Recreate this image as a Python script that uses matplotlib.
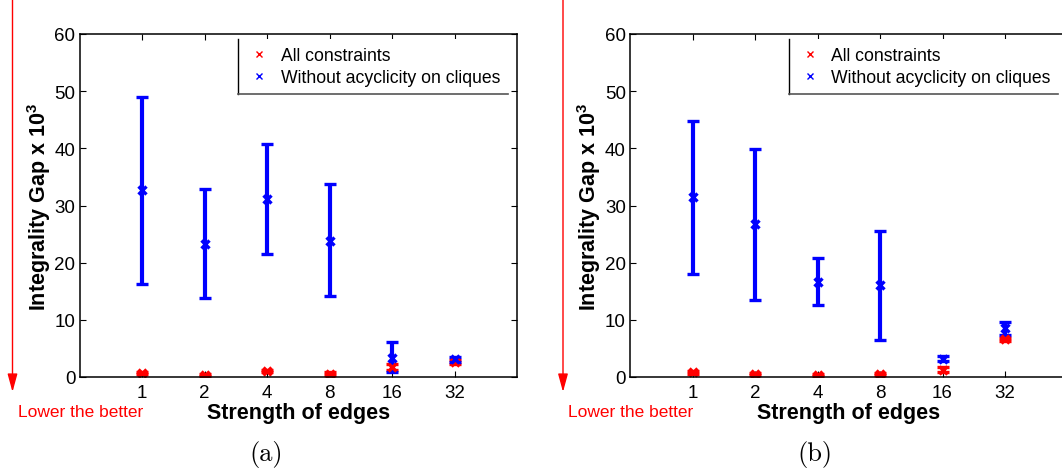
import matplotlib
matplotlib.use('Agg')
import matplotlib.pyplot as plt
from matplotlib.lines import Line2D
from matplotlib.patches import FancyArrowPatch

plt.rcParams['font.family'] = ['Liberation Sans', 'DejaVu Sans']
plt.rcParams['mathtext.fontset'] = 'custom'
plt.rcParams['mathtext.rm'] = 'Liberation Sans'
plt.rcParams['mathtext.bf'] = 'Liberation Sans:bold'

strengths = ['1', '2', '4', '8', '16', '32']

# panel (a)
a_all_mean = [0.65, 0.35, 1.1, 0.6, 1.8, 2.6]
a_all_low = [0.45, 0.2, 0.9, 0.4, 1.3, 2.3]
a_all_high = [0.85, 0.5, 1.3, 0.8, 2.3, 2.9]
a_noacyc_mean = [32.7, 23.3, 31.2, 23.8, 3.4, 3.1]
a_noacyc_low = [16.3, 13.8, 21.5, 14.1, 0.8, 2.7]
a_noacyc_high = [49.0, 32.9, 40.8, 33.7, 6.1, 3.5]

# panel (b)
b_all_mean = [0.8, 0.5, 0.3, 0.5, 1.3, 6.6]
b_all_low = [0.6, 0.3, 0.15, 0.3, 0.9, 6.3]
b_all_high = [1.0, 0.7, 0.45, 0.7, 1.7, 6.9]
b_noacyc_mean = [31.5, 26.7, 16.7, 16.1, 3.2, 8.6]
b_noacyc_low = [18.1, 13.4, 12.6, 6.5, 2.8, 7.4]
b_noacyc_high = [44.8, 39.9, 20.8, 25.6, 3.6, 9.6]

W, H = 1062, 477
fig = plt.figure(figsize=(W / 100, H / 100), dpi=100)


def panel(left_px, series, caption, cap_x):
    ax = fig.add_axes([left_px / W, 1 - 378 / H, 437.5 / W, 343 / H])
    x = list(range(1, len(strengths) + 1))
    for color, (m, lo, hi) in series:
        err = [[mi - l for mi, l in zip(m, lo)], [h - mi for mi, h in zip(m, hi)]]
        ax.errorbar(x, m, yerr=err, fmt='x', color=color, ecolor=color,
                    elinewidth=3, capsize=4.5, capthick=3, markersize=5.5,
                    markeredgewidth=2.4)
    ax.set_xlim(0, 7)
    ax.set_ylim(0, 60)
    ax.set_xticks(x)
    ax.set_xticklabels(strengths)
    ax.set_yticks(range(0, 61, 10))
    ax.tick_params(direction='in', top=True, right=True, length=4, width=0.8,
                   labelsize=13.5)
    ax.tick_params(axis='x', pad=5)
    ax.tick_params(axis='y', pad=3)
    for s in ax.spines.values():
        s.set_linewidth(1.1)

    ax.set_xlabel('Strength of edges', fontsize=15.5, fontweight='bold')
    ax.xaxis.label.set_va('center')
    ax.xaxis.set_label_coords(0.5, -(413 - 378) / 343)
    ax.set_ylabel(r'Integrality Gap x 10$^{\mathbf{3}}$', fontsize=15.5,
                  fontweight='bold')
    ax.yaxis.label.set_va('center')
    ax.yaxis.set_label_coords(-(79.5 - 39) / 437.5, 0.5)

    handles = [Line2D([], [], ls='none', marker='x', color='#ff0000', markersize=4, markeredgewidth=1),
               Line2D([], [], ls='none', marker='x', color='#0000ff', markersize=4, markeredgewidth=1)]
    leg = ax.legend(handles, ['All constraints', 'Without acyclicity on cliques'],
                    loc='upper left', bbox_to_anchor=(0.363, 0.985),
                    fontsize=12.7, frameon=True, fancybox=False,
                    edgecolor='none', facecolor='white', framealpha=1,
                    borderpad=0.45, handlelength=1.45, handletextpad=0.5,
                    labelspacing=0.3, borderaxespad=0)

    arrow_x = left_px - 67
    fig.add_artist(FancyArrowPatch(
        (arrow_x, H), (arrow_x, H - 393), transform=None,
        arrowstyle='-|>,head_width=0.3,head_length=1.1', mutation_scale=10,
        color='#ff0000', lw=1, shrinkA=0, shrinkB=0))
    fig.text((arrow_x + 5) / W, 1 - 413 / H, 'Lower the better', color='#ff0000',
             fontsize=12.5, ha='left', va='center')
    fig.text(cap_x / W, 1 - 455 / H, caption, family='cmr10', fontsize=19,
             ha='center', va='center')
    return ax, leg


ax_a, leg_a = panel(79.5, [('#ff0000', (a_all_mean, a_all_low, a_all_high)),
                           ('#0000ff', (a_noacyc_mean, a_noacyc_low, a_noacyc_high))],
                    '(a)', 266)
ax_b, leg_b = panel(630, [('#ff0000', (b_all_mean, b_all_low, b_all_high)),
                          ('#0000ff', (b_noacyc_mean, b_noacyc_low, b_noacyc_high))],
                    '(b)', 815)

# legend outline: only left and bottom edges are drawn
fig.canvas.draw()
inv = fig.transFigure.inverted()
for leg in (leg_a, leg_b):
    bb = leg.get_frame().get_window_extent()
    (x0, y0), (x1, y1) = inv.transform([(bb.x0, bb.y0), (bb.x1, bb.y1)])
    fig.add_artist(Line2D([x0, x0], [y0, y1], color='black', lw=1))
    fig.add_artist(Line2D([x0, x1], [y0, y0], color='#555555', lw=1.2))

fig.savefig('out.png', dpi=100)
